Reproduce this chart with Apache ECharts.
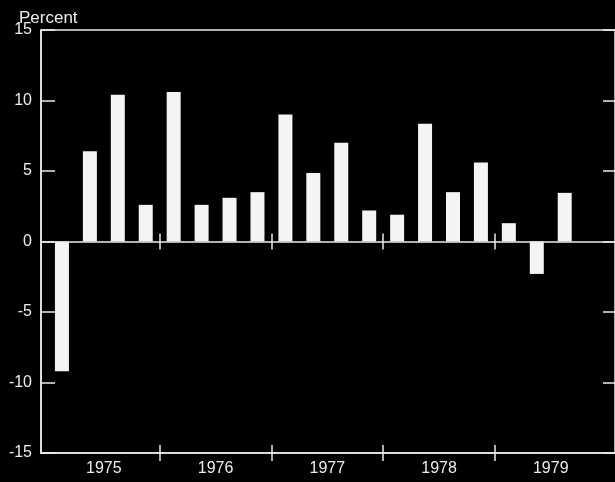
<!DOCTYPE html>
<html>
<head>
<meta charset="utf-8">
<script src="https://cdn.jsdelivr.net/npm/echarts@6/dist/echarts.min.js"></script>
<style>
  html, body { margin: 0; padding: 0; background: #000; }
  #chart { width: 615px; height: 482px; }
</style>
</head>
<body>
<div id="chart"></div>
<script>
// quarterly change, percent (1975 Q1 .. 1979 Q3)
const quarters = ['1975 Q1', '1975 Q2', '1975 Q3', '1975 Q4',
  '1976 Q1', '1976 Q2', '1976 Q3', '1976 Q4',
  '1977 Q1', '1977 Q2', '1977 Q3', '1977 Q4',
  '1978 Q1', '1978 Q2', '1978 Q3', '1978 Q4',
  '1979 Q1', '1979 Q2', '1979 Q3']
const values = [-9.2, 6.4, 10.4, 2.6,
  10.6, 2.6, 3.1, 3.5,
  9.0, 4.85, 7.0, 2.2,
  1.9, 8.35, 3.5, 5.6,
  1.3, -2.3, 3.45]
const years = ['1975', '1976', '1977', '1978', '1979']
const yTicks = [-15, -10, -5, 0, 5, 10, 15]

const ink = '#ececec'
const font = 'Liberation Sans'

const H = 482
const gridLeft = 41
const gridRight = -5
const gridTop = 30
const gridBottom = 29
const plotHeight = H - gridTop - gridBottom
const yMin = yTicks[0]
const yMax = yTicks[yTicks.length - 1]
const zeroY = gridTop + plotHeight * yMax / (yMax - yMin)
const bottomY = gridTop + plotHeight

// one quarter = 1 unit on the x axis, years span 4 units
const yearMid = years.map((y, i) => i * 4 + 1.5)
const yearEdge = years.slice(1).map((y, i) => i * 4 + 3.5)
const xMin = -0.75
const xMax = 19.8

const line = { color: ink, width: 1.5 }
const off = { show: false }

// thin strips: their split lines are the tick marks
function quietAxis (extra) {
  return Object.assign({
    type: 'value',
    axisLine: off,
    axisTick: off,
    axisLabel: off,
    splitLine: off
  }, extra)
}
function yStrip (gridIndex) {
  return quietAxis({
    gridIndex,
    min: yMin,
    max: yMax,
    interval: 5,
    splitLine: { show: true, lineStyle: line }
  })
}
function xStrip (gridIndex) {
  return quietAxis({
    gridIndex,
    min: xMin,
    max: xMax,
    axisTick: { show: false, customValues: yearEdge },
    splitLine: { show: true, lineStyle: line }
  })
}

const chart = echarts.init(document.getElementById('chart'))
chart.setOption({
  backgroundColor: '#000',
  animation: false,
  title: {
    text: 'Percent',
    left: 14,
    top: 5,
    textStyle: { color: ink, fontSize: 17, fontWeight: 'normal', fontFamily: font }
  },
  grid: [
    {
      left: gridLeft,
      right: gridRight,
      top: gridTop,
      bottom: gridBottom,
      show: true,
      backgroundColor: 'transparent',
      borderColor: ink,
      borderWidth: 1.5
    },
    { left: gridLeft, width: 14, top: gridTop, bottom: gridBottom },
    { left: 603, right: gridRight, top: gridTop, bottom: gridBottom },
    { left: gridLeft, right: gridRight, top: zeroY - 8, height: 16 },
    { left: gridLeft, right: gridRight, top: bottomY - 8, height: 16 }
  ],
  xAxis: [
    {
      type: 'value',
      gridIndex: 0,
      position: 'bottom',
      min: xMin,
      max: xMax,
      splitLine: off,
      axisTick: off,
      axisLine: { show: true, onZero: false, lineStyle: line },
      axisLabel: {
        customValues: yearMid,
        margin: 8,
        color: ink,
        fontSize: 16,
        fontFamily: font,
        formatter: v => years[Math.round((v - 1.5) / 4)]
      }
    },
    quietAxis({ gridIndex: 1, min: 0, max: 1 }),
    quietAxis({ gridIndex: 2, min: 0, max: 1 }),
    xStrip(3),
    xStrip(4)
  ],
  yAxis: [
    {
      type: 'value',
      gridIndex: 0,
      position: 'left',
      min: yMin,
      max: yMax,
      interval: 5,
      splitLine: off,
      axisTick: off,
      axisLine: { show: true, onZero: false, lineStyle: line },
      axisLabel: { color: ink, fontSize: 16, fontFamily: font, margin: 9 }
    },
    yStrip(1),
    yStrip(2),
    quietAxis({ gridIndex: 3, min: 0, max: 1 }),
    quietAxis({ gridIndex: 4, min: 0, max: 1 })
  ],
  series: [{
    name: 'Percent',
    type: 'bar',
    xAxisIndex: 0,
    yAxisIndex: 0,
    barWidth: 14,
    itemStyle: { color: '#f4f4f4' },
    data: values.map((v, i) => [i, v]),
    markLine: {
      silent: true,
      symbol: 'none',
      label: off,
      lineStyle: { color: ink, width: 1.5, type: 'solid' },
      data: [{ yAxis: 0 }]
    }
  }]
})
</script>
</body>
</html>
